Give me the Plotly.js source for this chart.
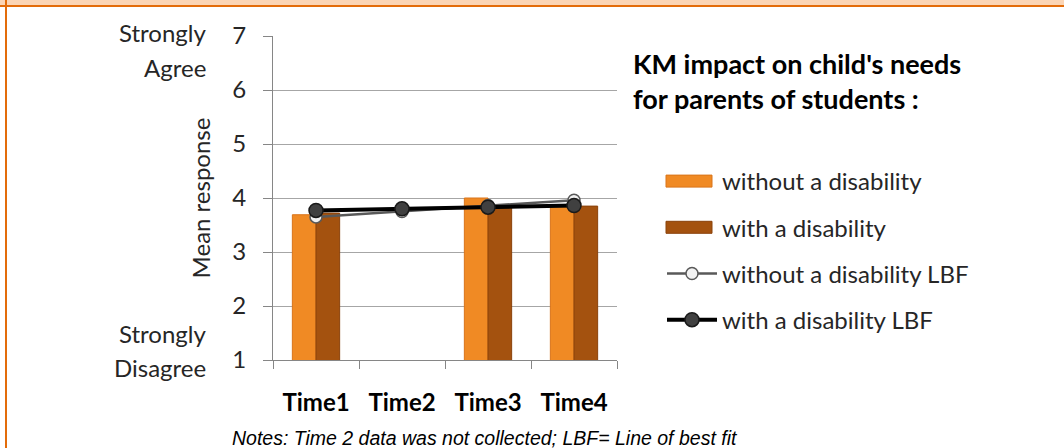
<!DOCTYPE html>
<html>
<head>
<meta charset="utf-8">
<script src="https://cdn.plot.ly/plotly-3.0.1.min.js"></script>
<style>
html,body{margin:0;padding:0;background:#fff;}
#wrap{position:relative;width:1064px;height:448px;overflow:hidden;}
#chart{position:absolute;left:0;top:0;width:1064px;height:448px;}
#band{position:absolute;left:0;top:0;width:1064px;height:5px;background:#FBD5B5;}
#bandline{position:absolute;left:0;top:5px;width:1064px;height:2px;background:#E36C0A;}
#leftline{position:absolute;left:5px;top:0;width:2px;height:448px;background:#E36C0A;}
</style>
</head>
<body>
<div id="wrap">
<div id="chart"></div>
<div id="band"></div><div id="bandline"></div><div id="leftline"></div>
</div>
<script>
var categories = ["Time1", "Time2", "Time3", "Time4"];
var withoutDisability = [3.69, null, 4.00, 3.85];
var withDisability = [3.72, null, 3.85, 3.85];
var withoutDisabilityLBF = [3.65, 3.75, 3.86, 3.96];
var withDisabilityLBF = [3.77, 3.80, 3.83, 3.86];
var yTickVals = [1, 2, 3, 4, 5, 6, 7];
var seriesNames = ["without a disability", "with a disability", "without a disability LBF", "with a disability LBF"];

var FONT = "Lato, 'Open Sans', sans-serif";
var FS = 24;

var traces = [
  {type: "bar", x: categories, y: withoutDisability, name: seriesNames[0],
   marker: {color: "#F08A24", line: {color: "#D9741A", width: 1}}, legendgroup: "a"},
  {type: "bar", x: categories, y: withDisability, name: seriesNames[1],
   marker: {color: "#A4520F", line: {color: "#8A420A", width: 1}}, legendgroup: "b"},
  {type: "scatter", mode: "lines+markers", x: categories, y: withoutDisabilityLBF, name: seriesNames[2],
   line: {color: "#595959", width: 2.5}, marker: {size: 12, color: "#F2F2F2", line: {color: "#595959", width: 1.5}}, legendgroup: "c"},
  {type: "scatter", mode: "lines+markers", x: categories, y: withDisabilityLBF, name: seriesNames[3],
   line: {color: "#000000", width: 4}, marker: {size: 14, color: "#404040", line: {color: "#1a1a1a", width: 1.5}}, legendgroup: "d"}
];

function py(p){ return (360 - p) / 324; }
function px(p){ return (p - 273) / 344; }

var layout = {
  width: 1064, height: 448,
  margin: {l: 273, r: 447, t: 36, b: 88},
  paper_bgcolor: "#ffffff", plot_bgcolor: "#ffffff",
  font: {family: FONT, size: FS, color: "#262626"},
  barmode: "group", bargap: 0.45, bargroupgap: 0,
  showlegend: true,
  title: {text: "<b>KM impact on child's needs<br>for parents of students :</b>",
          x: 633/1064, xref: "container", xanchor: "left", y: 1 - 74/448, yref: "container", yanchor: "top",
          font: {family: FONT, size: 27, color: "#000000"}},
  legend: {x: px(662), xanchor: "left", y: py(159), yanchor: "top",
           font: {family: FONT, size: FS, color: "#262626"}, traceorder: "grouped",
           tracegroupgap: 12, itemwidth: 50, bgcolor: "rgba(0,0,0,0)"},
  xaxis: {type: "category", categoryarray: categories, tickson: "boundaries", ticks: "outside", ticklen: 8,
          tickcolor: "#868686", showline: true, linecolor: "#868686", linewidth: 1, showgrid: false,
          tickfont: {family: FONT, size: FS, color: "#000000", weight: "bold"}, ticklabelstandoff: 21, fixedrange: true},
  yaxis: {range: [1, 7], tickvals: yTickVals, ticks: "outside", ticklen: 9, tickcolor: "#868686",
          showline: true, linecolor: "#868686", linewidth: 1, showgrid: true, gridcolor: "#A6A6A6", gridwidth: 1,
          zeroline: false, tickfont: {family: FONT, size: FS, color: "#262626"}, ticklabelstandoff: 12,
          title: {text: "Mean response", font: {family: FONT, size: FS, color: "#262626"}, standoff: 14}, fixedrange: true},
  annotations: [
    {text: "Strongly", xref: "paper", yref: "paper", x: px(208), y: py(33), xanchor: "right", yanchor: "middle", showarrow: false, font: {family: FONT, size: FS, color: "#262626"}},
    {text: "Agree", xref: "paper", yref: "paper", x: px(208), y: py(67), xanchor: "right", yanchor: "middle", showarrow: false, font: {family: FONT, size: FS, color: "#262626"}},
    {text: "Strongly", xref: "paper", yref: "paper", x: px(208), y: py(333), xanchor: "right", yanchor: "middle", showarrow: false, font: {family: FONT, size: FS, color: "#262626"}},
    {text: "Disagree", xref: "paper", yref: "paper", x: px(208), y: py(367), xanchor: "right", yanchor: "middle", showarrow: false, font: {family: FONT, size: FS, color: "#262626"}},
    {text: "<i>Notes: Time 2 data was not collected; LBF= Line of best fit</i>", xref: "paper", yref: "paper", x: px(485), y: py(438), xanchor: "center", yanchor: "middle", showarrow: false,
     font: {family: "'Liberation Sans Narrow', 'Liberation Sans', Arial, sans-serif", size: 19.5, color: "#000000"}}
  ]
};

Plotly.newPlot("chart", traces, layout, {displayModeBar: false, staticPlot: true}).then(function(gd){
  // widen the bar legend swatches into flat bars like the original
  var items = gd.querySelectorAll(".legend .traces");
  items.forEach(function(it){
    var isBar = it.querySelector(".legendpoints .scatterpts, .legendpoints .legendlines path") === null;
    if (isBar) {
      it.querySelectorAll(".legendpoints path").forEach(function(p){ p.setAttribute("d", "M-26,6H20V-6H-26Z"); });
    }
  });
});
</script>
</body>
</html>
